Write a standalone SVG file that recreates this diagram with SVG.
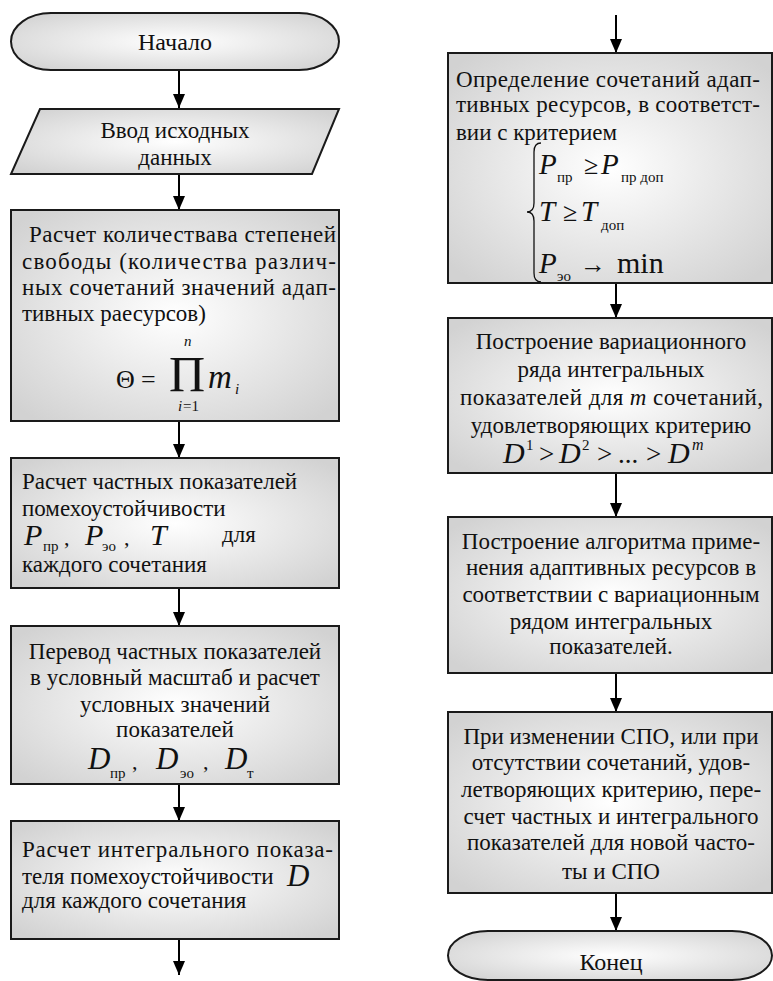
<svg xmlns="http://www.w3.org/2000/svg" width="773" height="981" viewBox="0 0 773 981">
<defs>
<radialGradient id="g" cx="50%" cy="50%" r="65%">
<stop offset="0" stop-color="#ffffff"/>
<stop offset="1" stop-color="#d2d2d2"/>
</radialGradient>
<marker id="ah" markerWidth="14" markerHeight="12" refX="14" refY="6" orient="auto" markerUnits="userSpaceOnUse" viewBox="0 0 14 12">
<path d="M0,0 L14,6 L0,12 Z" fill="#000"/>
</marker>
</defs>
<style>
.s{fill:url(#g);stroke:#1a1a1a;stroke-width:2}
.t{font-family:"Liberation Serif","Times New Roman",serif;font-size:23px;fill:#111}
.c{text-anchor:middle}
.m{font-family:"Liberation Serif","Times New Roman",serif;font-style:italic;fill:#111}
.sub{font-family:"Liberation Serif","Times New Roman",serif;font-size:15px;fill:#111}
.r{font-family:"Liberation Serif","Times New Roman",serif;fill:#111}
.e{stroke:#000;stroke-width:2;fill:none}
</style>
<rect width="773" height="981" fill="#fff"/>

<g id="connectors">
<line class="e" x1="179" y1="70" x2="179" y2="108" marker-end="url(#ah)"/>
<line class="e" x1="179" y1="174" x2="179" y2="210" marker-end="url(#ah)"/>
<line class="e" x1="179" y1="421" x2="179" y2="458" marker-end="url(#ah)"/>
<line class="e" x1="179" y1="588" x2="179" y2="626" marker-end="url(#ah)"/>
<line class="e" x1="179" y1="784" x2="179" y2="821" marker-end="url(#ah)"/>
<line class="e" x1="179" y1="939" x2="179" y2="975" marker-end="url(#ah)"/>
<line class="e" x1="616" y1="15" x2="616" y2="53" marker-end="url(#ah)"/>
<line class="e" x1="616" y1="283" x2="616" y2="318" marker-end="url(#ah)"/>
<line class="e" x1="616" y1="473" x2="616" y2="517" marker-end="url(#ah)"/>
<line class="e" x1="616" y1="673" x2="616" y2="712" marker-end="url(#ah)"/>
<line class="e" x1="616" y1="893" x2="616" y2="931" marker-end="url(#ah)"/>
</g>

<g id="start">
<path class="s" d="M51,13 L299,13 A40,28.5 0 0 1 299,70 L51,70 A40,28.5 0 0 1 51,13 Z"/>
<text class="t c" x="175" y="50" style="font-size:24px">Начало</text>
</g>

<g id="input">
<path class="s" d="M40,109 L339,109 L312,174 L11,174 Z"/>
<text class="t c" x="175" y="138">Ввод исходных</text>
<text class="t c" x="175" y="165">данных</text>
</g>

<g id="degrees">
<rect class="s" x="11" y="210" width="328" height="211"/>
<text class="t" x="29" y="242" textLength="307" lengthAdjust="spacing">Расчет количествава степеней</text>
<text class="t" x="22" y="269" textLength="314" lengthAdjust="spacing">свободы (количества различ-</text>
<text class="t" x="22" y="295" textLength="314" lengthAdjust="spacing">ных сочетаний значений адап-</text>
<text class="t" x="22" y="321">тивных раесурсов)</text>
<text class="r" x="116" y="388" style="font-size:26px">Θ</text>
<text class="r" x="141" y="388" style="font-size:26px">=</text>
<text class="r" x="169" y="391" style="font-size:50px">Π</text>
<text class="m" x="184" y="346" style="font-size:15px">n</text>
<text class="m" x="178" y="411" style="font-size:15px">i</text>
<text class="r" x="183" y="411" style="font-size:15px">=1</text>
<text class="m" x="208" y="388" style="font-size:33px">m</text>
<text class="m" x="235" y="394" style="font-size:15px">i</text>
</g>

<g id="partial">
<rect class="s" x="11" y="458" width="328" height="130"/>
<text class="t" x="22" y="489">Расчет частных показателей</text>
<text class="t" x="22" y="516">помехоустойчивости</text>
<text class="m" x="24" y="545" style="font-size:30px">P</text>
<text class="sub" x="43" y="551">пр</text>
<text class="r" x="64" y="545" style="font-size:22px">,</text>
<text class="m" x="85" y="545" style="font-size:30px">P</text>
<text class="sub" x="102" y="551">эо</text>
<text class="r" x="124" y="545" style="font-size:22px">,</text>
<text class="m" x="150" y="545" style="font-size:30px">T</text>
<text class="t" x="222" y="542">для</text>
<text class="t" x="22" y="572">каждого сочетания</text>
</g>

<g id="conventional">
<rect class="s" x="11" y="626" width="328" height="158"/>
<text class="t c" x="175" y="659">Перевод частных показателей</text>
<text class="t c" x="175" y="685">в условный масштаб и расчет</text>
<text class="t c" x="175" y="712">условных значений</text>
<text class="t c" x="175" y="737">показателей</text>
<text class="m" x="88" y="769" style="font-size:31px">D</text>
<text class="sub" x="110" y="778">пр</text>
<text class="r" x="132" y="769" style="font-size:22px">,</text>
<text class="m" x="156" y="769" style="font-size:31px">D</text>
<text class="sub" x="180" y="778">эо</text>
<text class="r" x="203" y="769" style="font-size:22px">,</text>
<text class="m" x="225" y="769" style="font-size:31px">D</text>
<text class="sub" x="247" y="778">т</text>
</g>

<g id="integral">
<rect class="s" x="11" y="821" width="328" height="118"/>
<text class="t" x="22" y="857" textLength="311" lengthAdjust="spacing">Расчет интегрального показа-</text>
<text class="t" x="22" y="884">теля помехоустойчивости</text>
<text class="m" x="287" y="886" style="font-size:31px">D</text>
<text class="t" x="22" y="908">для каждого сочетания</text>
</g>

<g id="criterion">
<rect class="s" x="448" y="53" width="324" height="230"/>
<text class="t" x="456" y="87" textLength="304" lengthAdjust="spacing">Определение сочетаний адап-</text>
<text class="t" x="456" y="112" textLength="304" lengthAdjust="spacing">тивных ресурсов, в соответст-</text>
<text class="t" x="456" y="140">вии с критерием</text>
<path d="M541,143 Q534,143 534,152 L534,203 Q534,212 527,212 Q534,212 534,221 L534,273 Q534,282 541,282" fill="none" stroke="#111" stroke-width="1.3"/>
<text class="m" x="539" y="174" style="font-size:29px">P</text>
<text class="sub" x="557" y="182">пр</text>
<text class="r" x="584" y="174" style="font-size:26px">≥</text>
<text class="m" x="601" y="174" style="font-size:29px">P</text>
<text class="sub" x="621" y="182">пр доп</text>
<text class="m" x="539" y="221" style="font-size:29px">T</text>
<text class="r" x="563" y="221" style="font-size:26px">≥</text>
<text class="m" x="581" y="221" style="font-size:29px">T</text>
<text class="sub" x="601" y="230">доп</text>
<text class="m" x="539" y="273" style="font-size:29px">P</text>
<text class="sub" x="557" y="281">эо</text>
<text class="r" x="580" y="273" style="font-size:26px">→</text>
<text class="r" x="617" y="273" style="font-size:30px">min</text>
</g>

<g id="series">
<rect class="s" x="448" y="318" width="324" height="155"/>
<text class="t c" x="611" y="349">Построение вариационного</text>
<text class="t c" x="611" y="377">ряда интегральных</text>
<text class="t" x="460" y="405" textLength="303" lengthAdjust="spacing">показателей для  <tspan class="m">m</tspan>  сочетаний,</text>
<text class="t c" x="611" y="433">удовлетворяющих критерию</text>
<text class="m" x="503" y="463" style="font-size:30px">D</text>
<text class="r" x="526" y="450" style="font-size:15px">1</text>
<text class="r" x="539" y="463" style="font-size:27px">&gt;</text>
<text class="m" x="559" y="463" style="font-size:30px">D</text>
<text class="r" x="582" y="450" style="font-size:15px">2</text>
<text class="r" x="597" y="463" style="font-size:27px">&gt;</text>
<text class="r" x="618" y="463" style="font-size:27px">...</text>
<text class="r" x="646" y="463" style="font-size:27px">&gt;</text>
<text class="m" x="668" y="463" style="font-size:30px">D</text>
<text class="m" x="692" y="450" style="font-size:16px">m</text>
</g>

<g id="algorithm">
<rect class="s" x="448" y="517" width="324" height="156"/>
<text class="t c" x="611" y="549">Построение алгоритма приме-</text>
<text class="t c" x="611" y="575">нения адаптивных ресурсов в</text>
<text class="t c" x="611" y="602">соответствии с вариационным</text>
<text class="t c" x="611" y="629">рядом интегральных</text>
<text class="t c" x="611" y="654">показателей.</text>
</g>

<g id="recalc">
<rect class="s" x="448" y="712" width="324" height="181"/>
<text class="t c" x="611" y="744">При изменении СПО, или при</text>
<text class="t c" x="611" y="770">отсутствии сочетаний, удов-</text>
<text class="t c" x="611" y="797">летворяющих критерию, пере-</text>
<text class="t c" x="611" y="824">счет частных и интегрального</text>
<text class="t c" x="611" y="850">показателей для новой часто-</text>
<text class="t c" x="611" y="879">ты и СПО</text>
</g>

<g id="end">
<path class="s" d="M488,931 L732,931 A40,24.5 0 0 1 732,980 L488,980 A40,24.5 0 0 1 488,931 Z"/>
<text class="t c" x="611" y="970" style="font-size:24px">Конец</text>
</g>
</svg>
